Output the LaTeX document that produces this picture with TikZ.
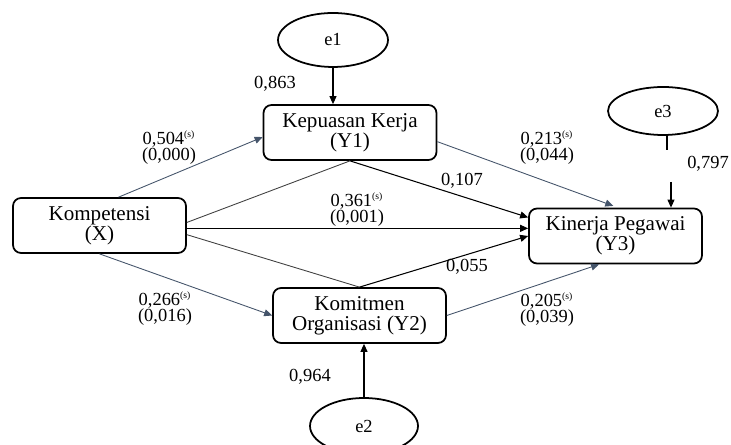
\documentclass[tikz,border=0pt]{standalone}
\usepackage{fontspec}
\setmainfont{Liberation Serif}
\usetikzlibrary{shapes.geometric,arrows.meta}
\definecolor{arrowgray}{RGB}{68,84,106}
\newcommand{\sig}{\textsuperscript{\fontsize{5.5}{6}\selectfont(s)}}
\begin{document}
\begin{tikzpicture}[x={(0.02cm,0cm)},y={(0cm,-0.02cm)},
  varbox/.style={draw, line width=1pt, rounded corners=0.16cm, minimum width=3.46cm, minimum height=1.1cm, align=center, inner sep=1pt, font=\fontsize{12}{11.5}\selectfont},
  errnode/.style={draw, ellipse, line width=1pt, inner sep=0pt, minimum width=2.2cm, minimum height=1.08cm, font=\fontsize{10.5}{12}\selectfont},
  coef/.style={align=center, inner sep=1pt, font=\fontsize{10.5}{9}\selectfont},
  blk/.style={-{Triangle[length=1.6mm,width=1.4mm]}, line width=0.6pt},
  gry/.style={-{Triangle[length=1.6mm,width=1.4mm]}, line width=0.5pt, draw=arrowgray},
  link/.style={line width=0.5pt, draw=black!75}]

\useasboundingbox (0,0) rectangle (731,445);

\node[varbox] (y1) at (350,132.5) {Kepuasan Kerja\\(Y1)};
\node[varbox] (x) at (99.5,225.5) {Kompetensi\\(X)};
\node[varbox] (y3) at (615.5,236) {Kinerja Pegawai\\(Y3)};
\node[varbox] (y2) at (359.5,315.5) {Komitmen\\Organisasi (Y2)};
\node[errnode] (e1) at (333,40) {e1};
\node[errnode, minimum height=0.96cm] (e3) at (663,111) {e3};
\node[errnode, minimum width=2.16cm, minimum height=1.12cm] (e2) at (364,426) {e2};

\node[coef] (c863) at (275,84) {0,863};
\node[coef] (c504) at (169,148) {0,504\sig\\(0,000)};
\node[coef] (c213) at (547,148) {0,213\sig\\(0,044)};
\node[coef] (c107) at (462,181) {0,107};
\node[coef] (c361) at (357,210) {0,361\sig\\(0,001)};
\node[coef] (c797) at (708,164) {0,797};
\node[coef] (c055) at (467,267) {0,055};
\node[coef] (c266) at (165,309) {0,266\sig\\(0,016)};
\node[coef] (c205) at (547,310) {0,205\sig\\(0,039)};
\node[coef] (c964) at (310,377) {0,964};

\coordinate (e3a) at (667,150);
\coordinate (e3b) at (671,182);

\draw[blk] (e1) -- (e1 |- y1.north);
\draw[blk] (e2) -- (e2 |- y2.south);
\draw[line width=0.6pt] (e3a |- e3.south) -- (e3a);
\draw[blk] (e3b) -- (e3b |- y3.north);
\draw[gry] (x.56) -- (y1.183);
\draw[gry, shorten >=0.1cm] (y1.-6) -- (y3.85);
\draw[blk] (y1.south) -- (y3.168);
\draw[link] (x.2) -- (y1.south);
\draw[blk] (y3.175 -| x.east) -- (y3.175);
\draw[link] (x.-6) -- (y2.north);
\draw[blk] (y2.north) -- (y3.west);
\draw[gry] (x.south) -- (y2.west);
\draw[gry] (y2.east) -- (y3.240);
\end{tikzpicture}
\end{document}
